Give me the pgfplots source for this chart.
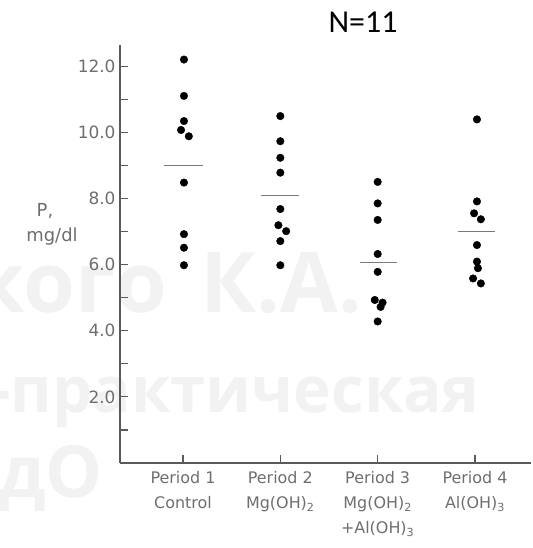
\documentclass[border=0pt]{standalone}
\usepackage{fontspec}
\setmainfont{DejaVu Sans}
\newfontfamily\calfont{Carlito}
\newfontfamily\wmfont{Open Sans}
\usepackage{pgfplots}
\pgfplotsset{compat=1.18}

\definecolor{axgray}{HTML}{5A5A5A}
\definecolor{labgray}{HTML}{6E6E6E}
\definecolor{meangray}{HTML}{7A7A7A}
\definecolor{wm}{HTML}{F2F2F2}

\begin{document}
\begin{tikzpicture}
% faint background lettering
\begin{scope}[every node/.style={inner sep=0pt, text=wm}]
  \node[anchor=base east] at (47bp,150bp) {\wmfont\bfseries\fontsize{84}{84}\selectfont кого};
  \node[anchor=base west] at (80bp,150bp) {\wmfont\bfseries\fontsize{84}{84}\selectfont К.А.};
  \node[anchor=base east] at (360bp,50bp) {\wmfont\bfseries\fontsize{64}{64}\selectfont о-практическая};
  \node[anchor=base west] at (-122bp,-34bp) {\wmfont\bfseries\fontsize{72}{72}\selectfont дО};
\end{scope}

\begin{axis}[
  scale only axis,
  width=411bp, height=418bp,
  xmin=0.353, xmax=4.575,
  ymin=0, ymax=12.64,
  axis lines=left,
  axis line style={-, draw=axgray, line width=1.5pt},
  xtick={1,2,3,4},
  xticklabels={
    {Period 1\\Control},
    {Period 2\\Mg(OH)\textsubscript{2}},
    {Period 3\\Mg(OH)\textsubscript{2}\\+Al(OH)\textsubscript{3}},
    {Period 4\\Al(OH)\textsubscript{3}}},
  xticklabel style={align=center, anchor=north, yshift=-5bp, text=labgray,
    font=\fontsize{16}{25}\selectfont},
  ytick={2,4,6,8,10,12},
  yticklabels={2.0,4.0,6.0,8.0,10.0,12.0},
  minor ytick={1,3,5,7,9,11},
  yticklabel style={text=labgray, font=\fontsize{17}{17}\selectfont, xshift=-1bp},
  tick align=inside,
  major tick length=8bp,
  minor tick length=8bp,
  tick style={draw=axgray, line width=1.2pt},
  clip=false,
]
% Period 1 -- Control
\addplot[only marks, mark=*, mark size=3.8pt, black] table {
x y
1.01 12.20
1.01 11.10
1.01 10.34
0.98 10.07
1.06 9.88
1.01 8.48
1.01 6.92
1.01 6.51
1.01 5.98
};
% Period 2 -- Mg(OH)2
\addplot[only marks, mark=*, mark size=3.8pt, black] table {
x y
2.00 10.49
2.00 9.73
2.00 9.23
2.00 8.78
2.00 7.68
1.98 7.19
2.06 7.01
2.00 6.71
2.00 5.98
};
% Period 3 -- Mg(OH)2 + Al(OH)3
\addplot[only marks, mark=*, mark size=3.8pt, black] table {
x y
3.00 8.50
3.00 7.85
3.00 7.35
3.00 6.32
3.00 5.78
2.97 4.93
3.05 4.85
3.03 4.72
3.00 4.28
};
% Period 4 -- Al(OH)3
\addplot[only marks, mark=*, mark size=3.8pt, black] table {
x y
4.02 10.39
4.02 7.91
3.99 7.55
4.06 7.37
4.02 6.59
4.02 6.09
4.03 5.89
3.98 5.58
4.06 5.43
};
% group means
\addplot[meangray, line width=1.3pt] coordinates {(0.80,8.99) (1.21,8.99)};
\addplot[meangray, line width=1.3pt] coordinates {(1.80,8.08) (2.19,8.08)};
\addplot[meangray, line width=1.3pt] coordinates {(2.82,6.07) (3.20,6.07)};
\addplot[meangray, line width=1.3pt] coordinates {(3.82,6.99) (4.21,6.99)};
\end{axis}

% y-axis title
\node[text=labgray, font=\fontsize{18}{18}\selectfont, anchor=center] at (-75bp,252bp) {P,};
\node[text=labgray, font=\fontsize{18}{18}\selectfont, anchor=center] at (-68bp,226bp) {mg/dl};
% sample size
\node[anchor=base, inner sep=0pt] at (243bp,430bp) {\calfont\fontsize{32}{32}\selectfont N=11};

\pgfresetboundingbox
\path[use as bounding box] (-120bp,-85bp) rectangle (413bp,463bp);
\end{tikzpicture}
\end{document}
